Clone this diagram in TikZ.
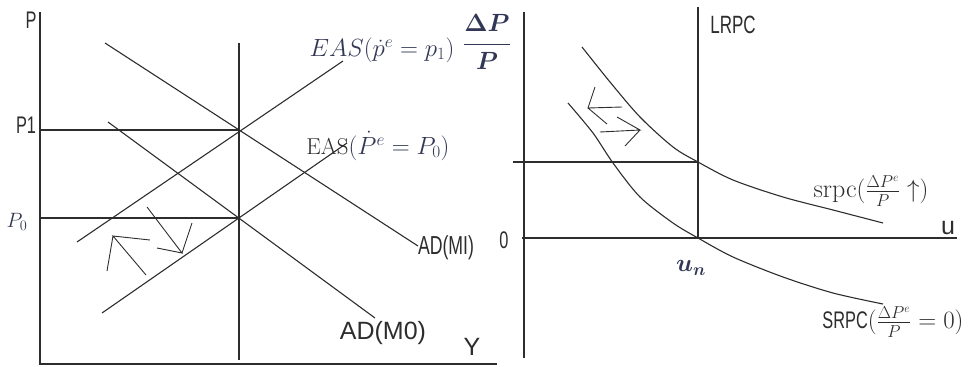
\documentclass[tikz,border=0pt]{standalone}
\usepackage{xcolor}
\usepackage{amsmath}
\usepackage{graphicx}
\usepackage{fontspec}
\setsansfont{Liberation Sans}
\usepackage{tikz}
\usetikzlibrary{calc}
\definecolor{lineGray}{RGB}{45,45,45}
\definecolor{mathBlue}{RGB}{50,55,85}
\newcommand{\narrowtxt}[1]{\scalebox{0.68}[1]{#1}}
\newcommand{\fs}[1]{\fontsize{#1}{#1}\selectfont}

\begin{document}
\begin{tikzpicture}[x=1pt,y=-1pt,
		axis/.style={draw=lineGray,line width=1.6pt},
		curve/.style={draw=lineGray,line width=1.1pt},
		hand/.style={draw=lineGray,line width=0.9pt},
		lbl/.style={inner sep=0pt,text=lineGray,font=\sffamily},
		mlbl/.style={inner sep=0pt,text=mathBlue}]
		\useasboundingbox (0,0) rectangle (970,367);
		\coordinate (yTop) at (40,12);
		\coordinate (origin) at (40,364);
		\coordinate (yEnd) at (497,364);
		\coordinate (vTop) at (239,43);
		\coordinate (vBot) at (239,360);
		\coordinate (eqOne) at (239,130);
		\coordinate (eqZero) at (239,218);
		\coordinate (pOne) at (40,130);
		\coordinate (pZero) at (40,218);
		\coordinate (adOneA) at (105,43);
		\coordinate (adOneB) at (418,246);
		\coordinate (adZeroA) at (108,122);
		\coordinate (adZeroB) at (375,318);
		\coordinate (easOneA) at (77,242);
		\coordinate (easOneB) at (343,61);
		\coordinate (easZeroA) at (102,313);
		\coordinate (easZeroB) at (347,143);
		\draw[axis] (yTop) -- (origin) -- (yEnd);
		\draw[curve] (vTop) -- (vBot);
		\draw[curve] (pOne) -- (eqOne);
		\draw[curve] (pZero) -- (eqZero);
		\draw[curve] (adOneA) -- (adOneB);
		\draw[curve] (adZeroA) -- (adZeroB);
		\draw[curve] (easOneA) -- (easOneB);
		\draw[curve] (easZeroA) -- (easZeroB);
		\draw[hand] (146,275) -- (113,236) -- (150,240) (113,236) -- (107,271);
		\draw[hand] (147,207) -- (182,253) -- (157,248) (182,253) -- (192,223);
		\node[lbl] (pLabel) at (31,20) {\fs{24}\narrowtxt{P}};
		\node[lbl] (pOneLabel) at (26,125) {\fs{24}\narrowtxt{P1}};
		\node[mlbl] (pZeroLabel) at (17,222) {\fs{22}$P_0$};
		\node[lbl] (yLabel) at (472,347) {\fs{25}Y};
		\node[lbl] (adZeroLabel) at (383,333) {\fs{25}AD(M0)};
		\node[lbl] (adOneLabel) at (446,248) {\fs{26}\narrowtxt{AD(MI)}};
		\node[mlbl] (easOneLabel) at (382,50) {\fs{26}$EAS(\dot{p}^e=p_1)$};
		\node[mlbl] (easZeroLabel) at (378,146) {\fs{23}{\rmfamily\color{lineGray}EAS}$(\dot{P}^e=P_0)$};
		\coordinate (rTop) at (524,12);
		\coordinate (rBot) at (524,358);
		\coordinate (uStart) at (522,238);
		\coordinate (uEnd) at (957,238);
		\coordinate (lrTop) at (698,7);
		\coordinate (natRate) at (698,238);
		\coordinate (hLeft) at (513,162);
		\coordinate (hRight) at (698,162);
		\draw[axis] (rTop) -- (rBot);
		\draw[axis] (uStart) -- (uEnd);
		\draw[curve] (lrTop) -- (natRate);
		\draw[curve] (hLeft) -- (hRight);
		\draw[curve] plot[smooth] coordinates {(582,47) (610,82) (640,117) (673,147) (698,162) (733,180) (783,197) (833,210) (883,223)};
		\draw[curve] plot[smooth] coordinates {(568,103) (593,133) (613,163) (640,197) (673,223) (698,238) (733,257) (783,277) (833,293) (883,304)};
		\draw[hand] (622,107) -- (588,108) -- (595,87) (588,108) -- (607,124);
		\draw[hand] (600,132) -- (640,130) -- (617,117) (640,130) -- (625,146);
		\node[mlbl] (inflLabel) at (487,42) {\fs{24}$\boldsymbol{\dfrac{\Delta P}{P}}$};
		\node[lbl] (lrpcLabel) at (733,25) {\fs{25}\narrowtxt{LRPC}};
		\node[lbl] (zeroLabel) at (504,240) {\fs{24}\narrowtxt{0}};
		\node[lbl] (uLabel) at (948,228) {\fs{25}u};
		\node[mlbl] (unLabel) at (691,268) {\fs{25}$\boldsymbol{u_n}$};
		\node[lbl] (srpcLabel) at (871,191) {\fs{26}{\rmfamily srpc}$(\frac{\Delta P^e}{P}\uparrow)$};
		\node[lbl] (SRPCLabel) at (893,322) {\fs{24}\narrowtxt{SRPC}$(\frac{\Delta P^e}{P}=0)$};
\end{tikzpicture}
\end{document}
